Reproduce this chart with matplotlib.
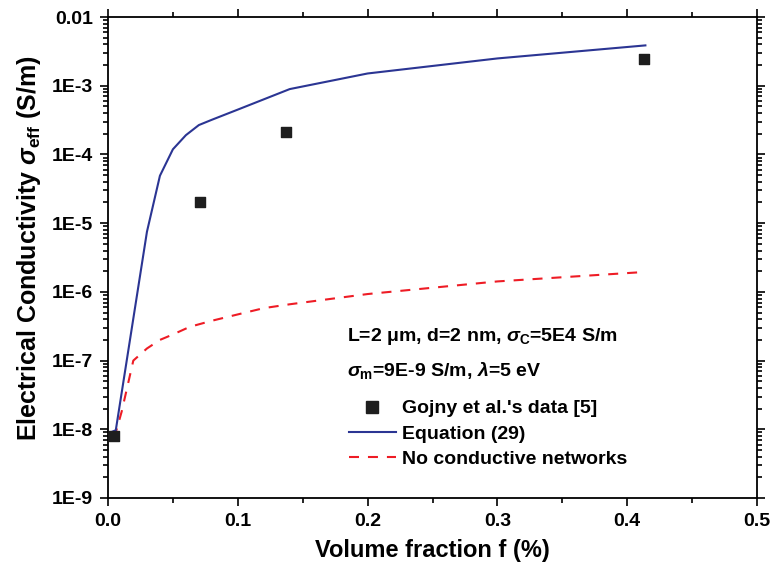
import matplotlib
matplotlib.use("Agg")
import matplotlib.pyplot as plt
from matplotlib.ticker import LogLocator, MultipleLocator, FixedLocator, FixedFormatter, NullFormatter
from matplotlib.lines import Line2D

plt.rcParams['font.family'] = ['Liberation Sans', 'DejaVu Sans']
plt.rcParams['font.weight'] = 'bold'
plt.rcParams['mathtext.fontset'] = 'custom'
plt.rcParams['mathtext.rm'] = 'Liberation Sans:bold'
plt.rcParams['mathtext.it'] = 'Liberation Sans:italic:bold'
plt.rcParams['mathtext.bf'] = 'Liberation Sans:bold'

# Data
data_f = [0.0044, 0.071, 0.137, 0.413]
data_sigma = [8.0e-9, 2.0e-5, 2.15e-4, 2.45e-3]

eq_f = [0.002, 0.006, 0.03, 0.04, 0.05, 0.06, 0.07, 0.08, 0.1, 0.14, 0.2, 0.3, 0.414]
eq_sigma = [9e-9, 9.7e-9, 7.5e-6, 4.9e-5, 1.19e-4, 1.91e-4, 2.68e-4, 3.2e-4,
            4.5e-4, 8.95e-4, 1.51e-3, 2.5e-3, 3.87e-3]

nc_f = [0.0015, 0.006, 0.0105, 0.0195, 0.03, 0.04, 0.05, 0.063, 0.08, 0.1,
        0.12, 0.14, 0.2, 0.3, 0.408]
nc_sigma = [9e-9, 9e-9, 1.8e-8, 1.0e-7, 1.5e-7, 2.0e-7, 2.4e-7, 3.1e-7, 3.8e-7,
            4.7e-7, 5.8e-7, 6.6e-7, 9.3e-7, 1.42e-6, 1.92e-6]

ytick_vals = [1e-9, 1e-8, 1e-7, 1e-6, 1e-5, 1e-4, 1e-3, 1e-2]
ytick_labels = ['1E-9', '1E-8', '1E-7', '1E-6', '1E-5', '1E-4', '1E-3', '0.01']

RED = '#ee1c25'
BLUE = '#2b3593'
DASH = (0, (4.8, 4.3))

fig = plt.figure(figsize=(7.72, 5.69), dpi=100)
ax = fig.add_axes([0.1399, 0.1248, 0.8407, 0.8452])

ax.plot(nc_f, nc_sigma, color=RED, lw=1.5, ls=DASH, zorder=2)
ax.plot(eq_f, eq_sigma, color=BLUE, lw=1.5, zorder=3)
ax.scatter(data_f, data_sigma, marker='s', s=60, color='#1e1e1e', zorder=4)

ax.set_yscale('log')
ax.set_xlim(0, 0.5)
ax.set_ylim(1e-9, 1e-2)

ax.xaxis.set_major_locator(MultipleLocator(0.1))
ax.xaxis.set_minor_locator(MultipleLocator(0.05))
ax.xaxis.set_major_formatter(matplotlib.ticker.FormatStrFormatter('%.1f'))
ax.yaxis.set_major_locator(FixedLocator(ytick_vals))
ax.yaxis.set_major_formatter(FixedFormatter(ytick_labels))
ax.yaxis.set_minor_locator(LogLocator(base=10, subs=range(2, 10), numticks=20))
ax.yaxis.set_minor_formatter(NullFormatter())

ax.tick_params(which='both', direction='out', top=True, right=True,
               labeltop=False, labelright=False, width=1.2, labelsize=14)
ax.tick_params(which='major', length=6, pad=5)
ax.tick_params(which='minor', length=3.5)
for s in ax.spines.values():
    s.set_linewidth(1.3)

ax.set_xlabel('Volume fraction f (%)', fontsize=17, fontweight='bold', labelpad=6)
ax.set_ylabel(r'Electrical Conductivity $\mathit{\sigma}_{\mathrm{eff}}$ (S/m)',
              fontsize=18, fontweight='bold', labelpad=6)
ax.yaxis.label.set_y(0.519)

ax.text(0.368, 0.335, r'L=2 μm, d=2 nm, $\mathit{\sigma}_{\mathrm{C}}$=5E4 S/m',
        transform=ax.transAxes, fontsize=14, fontweight='bold', va='center')
ax.text(0.368, 0.266, r'$\mathit{\sigma}_{\mathrm{m}}$=9E-9 S/m, $\mathit{\lambda}$=5 eV',
        transform=ax.transAxes, fontsize=14, fontweight='bold', va='center')

handles = [
    Line2D([], [], ls='none', marker='s', markersize=8, color='#1e1e1e'),
    Line2D([], [], color=BLUE, lw=1.5),
    Line2D([], [], color=RED, lw=1.5, ls=DASH),
]
labels = ["Gojny et al.'s data [5]", 'Equation (29)', 'No conductive networks']
ax.legend(handles, labels, loc='upper left', bbox_to_anchor=(0.359, 0.2204),
          frameon=False, fontsize=14, handlelength=2.42, handletextpad=0.3,
          labelspacing=0.4, borderaxespad=0)

fig.savefig('out.png', dpi=100)
